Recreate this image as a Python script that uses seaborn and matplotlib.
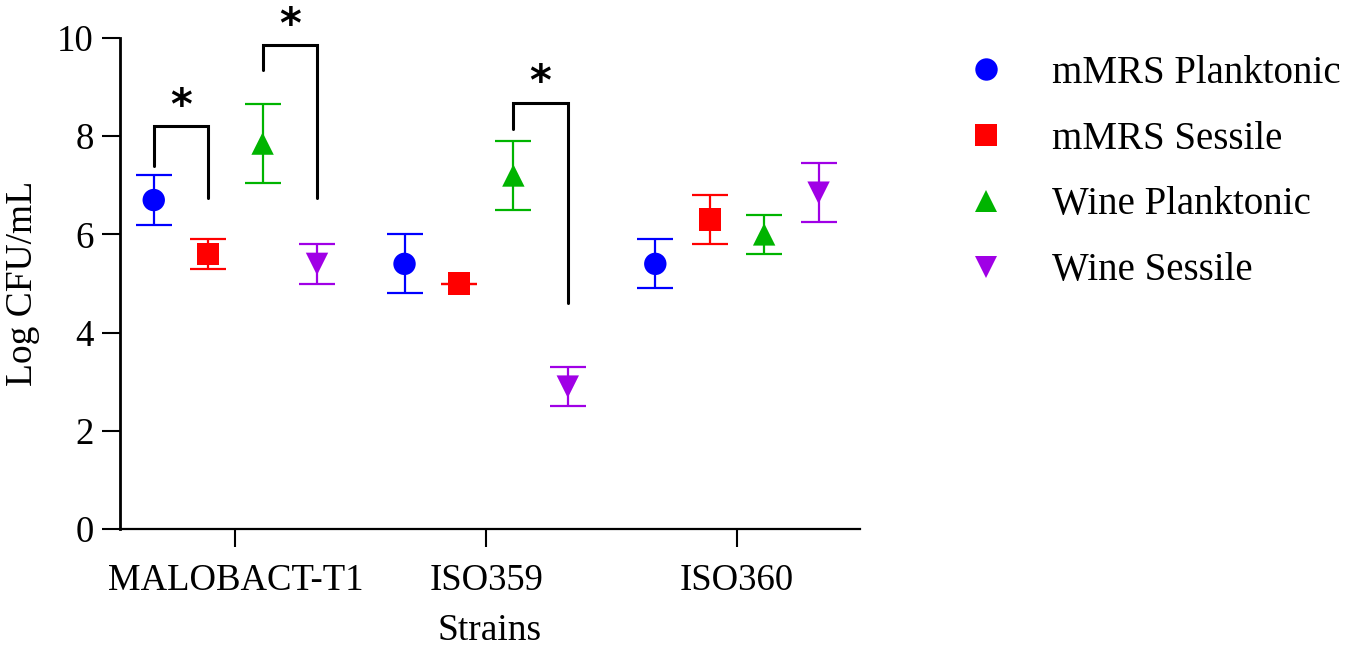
import pandas as pd
import matplotlib
matplotlib.use("Agg")
import matplotlib.pyplot as plt
import seaborn as sns

# --- data ---
strains = ["MALOBACT-T1", "ISO359", "ISO360"]
conditions = ["mMRS Planktonic", "mMRS Sessile", "Wine Planktonic", "Wine Sessile"]
mmrs_planktonic = [6.7, 5.4, 5.4]
mmrs_sessile = [5.6, 5.0, 6.3]
wine_planktonic = [7.85, 7.2, 6.0]
wine_sessile = [5.4, 2.9, 6.85]
sd_mmrs_planktonic = [0.5, 0.6, 0.5]
sd_mmrs_sessile = [0.3, 0.0, 0.5]
sd_wine_planktonic = [0.8, 0.7, 0.4]
sd_wine_sessile = [0.4, 0.4, 0.6]

colors = ["#0000FF", "#FF0000", "#00B400", "#A000E6"]
markers = ["o", "s", "^", "v"]

# significance brackets: (strain, left condition, right condition, left foot, top, right foot)
brackets = [
    (0, 0, 1, 7.4, 8.2, 6.75),
    (0, 2, 3, 9.35, 9.85, 6.75),
    (1, 2, 3, 8.15, 8.68, 4.6),
]

means = [mmrs_planktonic, mmrs_sessile, wine_planktonic, wine_sessile]
sds = [sd_mmrs_planktonic, sd_mmrs_sessile, sd_wine_planktonic, sd_wine_sessile]

rows = []
for ci, cond in enumerate(conditions):
    for si, strain in enumerate(strains):
        rows.append({"Strain": strain, "Condition": cond,
                     "mean": means[ci][si], "sd": sds[ci][si],
                     "pos": si + (ci - 1.5) * 0.217})
df = pd.DataFrame(rows)

sns.set_style("ticks")
plt.rcParams["font.family"] = ["Liberation Serif", "DejaVu Serif"]
plt.rcParams["text.color"] = "black"
plt.rcParams["axes.labelcolor"] = "black"

fig = plt.figure(figsize=(13.5, 6.6), dpi=100)
ax = fig.add_axes([0.0889, 0.1985, 0.548, 0.7439])

# error bars first so markers sit on top
for ci, cond in enumerate(conditions):
    sub = df[df["Condition"] == cond]
    ax.errorbar(sub["pos"], sub["mean"], yerr=sub["sd"], fmt="none",
                ecolor=colors[ci], elinewidth=1.6, capsize=13, capthick=1.6, zorder=2)

sns.scatterplot(data=df, x="pos", y="mean", hue="Condition", style="Condition",
                hue_order=conditions, style_order=conditions,
                palette=colors, markers=markers, s=260, linewidth=0,
                ax=ax, zorder=3)

# brackets with stars
for si, left, right, y_l, y_top, y_r in brackets:
    x_l = si + (left - 1.5) * 0.217
    x_r = si + (right - 1.5) * 0.217
    ax.plot([x_l, x_l, x_r, x_r], [y_l, y_top, y_top, y_r], color="black",
            lw=2.2, clip_on=False, solid_joinstyle="miter", zorder=4)
    ax.text((x_l + x_r) / 2, y_top + 0.40, "*", ha="center", va="center",
            fontsize=30, fontweight="bold", family="DejaVu Sans", clip_on=False)

ax.set_xlim(-0.46, 2.49)
ax.set_ylim(0, 10)
ax.set_yticks([0, 2, 4, 6, 8, 10])
ax.set_xticks(range(len(strains)))
ax.set_xticklabels(strains)
ax.set_xlabel("Strains", fontsize=27, labelpad=11)
ax.set_ylabel("Log CFU/mL", fontsize=27, labelpad=12)
ax.tick_params(axis="both", labelsize=26.5, length=13, width=1.5, direction="out",
               colors="black", labelcolor="black")
ax.tick_params(axis="x", pad=12)
ax.tick_params(axis="y", pad=6)
sns.despine(ax=ax)
ax.spines["left"].set_linewidth(2.0)
ax.spines["bottom"].set_linewidth(1.6)
ax.spines["left"].set_color("black")
ax.spines["bottom"].set_color("black")

handles, labels = ax.get_legend_handles_labels()
ax.get_legend().remove()
fig.legend(handles, labels, loc="upper left", bbox_to_anchor=(0.69, 0.97),
           frameon=False, fontsize=28, handlelength=1.0, handletextpad=1.2,
           labelspacing=0.74, markerscale=1.0, labelcolor="black")

fig.savefig("out.png", dpi=100)
